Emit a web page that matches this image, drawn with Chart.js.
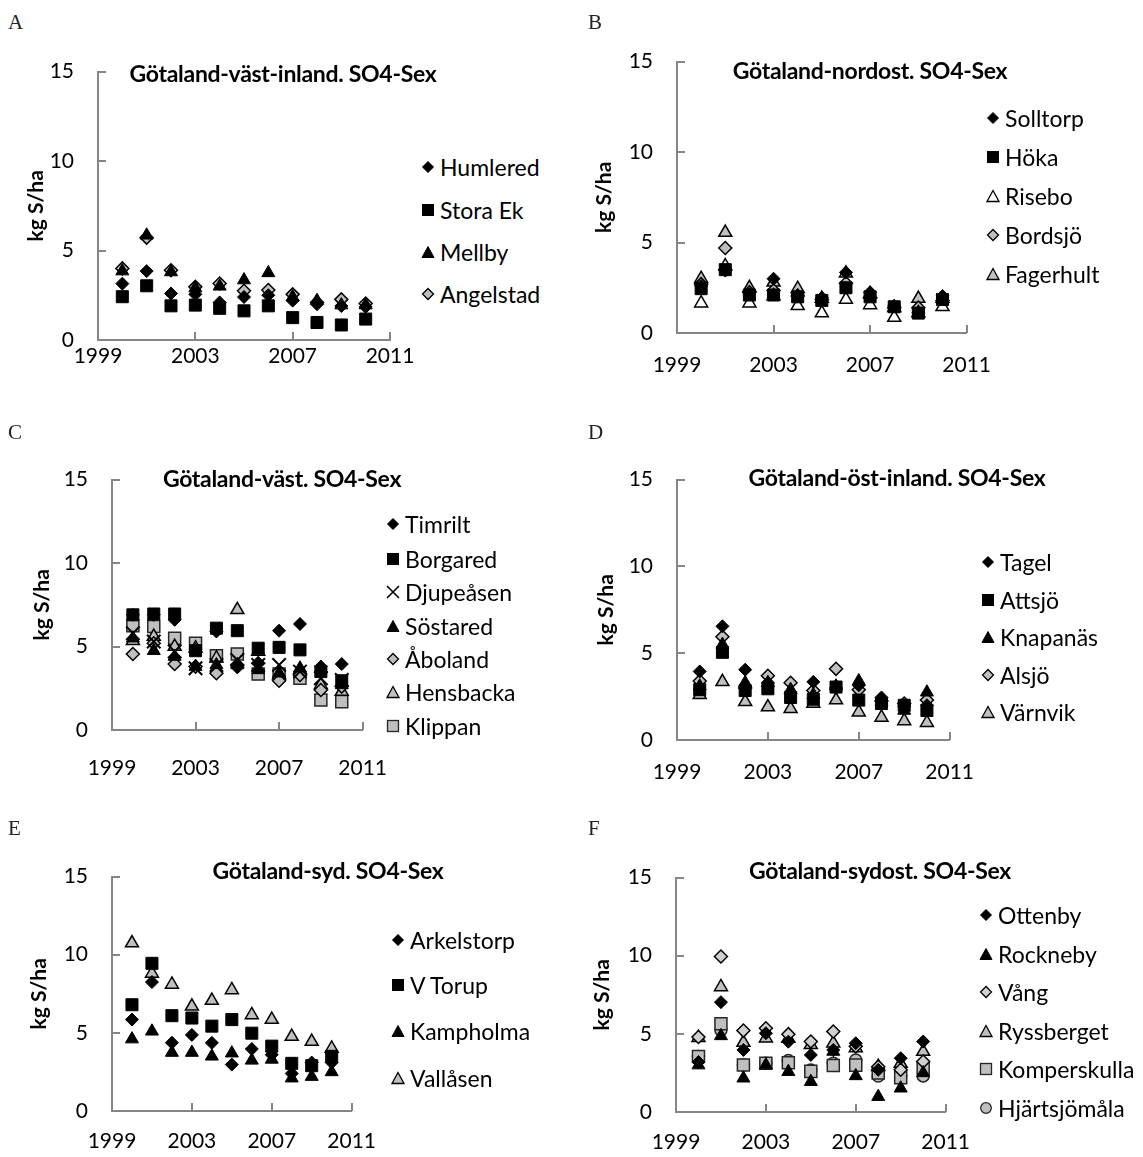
<!DOCTYPE html>
<html>
<head>
<meta charset="utf-8">
<script src="https://cdn.jsdelivr.net/npm/chart.js@4.4.1/dist/chart.umd.min.js"></script>
<style>
  body { margin: 0; background: #fff; width: 1143px; height: 1157px; position: relative; overflow: hidden; font-family: Lato, 'Open Sans', sans-serif; color: #000; }
  canvas { position: absolute; }
  .letter { position: absolute; font-family: 'Liberation Serif', 'DejaVu Serif', serif; font-size: 21px; color: #222; transform: translateY(-50%); }
  .title { position: absolute; font-weight: bold; font-size: 23px; letter-spacing: -0.3px; transform: translate(-50%, -50%); white-space: nowrap; z-index: 2; }
  .legend-item { position: absolute; font-size: 23px; transform: translateY(-50%); display: flex; align-items: center; gap: 5px; white-space: nowrap; z-index: 2; }
  .legend-item svg { display: block; }
</style>
</head>
<body>
<script>
const years = [2000, 2001, 2002, 2003, 2004, 2005, 2006, 2007, 2008, 2009, 2010]
const xTicks = [1999, 2003, 2007, 2011]
const yTicks = [0, 5, 10, 15]

// A: Götaland-väst-inland
const humlered  = [3.15, 3.85, 2.6, 2.55, 2.1, 2.4, 2.5, 2.2, 2.0, 1.9, 1.85]
const storaEk   = [2.42, 3.03, 1.91, 1.95, 1.77, 1.63, 1.91, 1.25, 0.98, 0.84, 1.17]
const mellby    = [3.85, 5.85, 3.8, 2.9, 3.0, 3.35, 3.75, 2.4, 2.2, 1.95, 1.95]
const angelstad = [4.0, 5.72, 3.9, 2.97, 3.16, 2.75, 2.79, 2.55, 2.1, 2.27, 2.04]

// B: Götaland-nordost
const solltorp  = [2.6, 3.45, 2.15, 3.0, 2.1, 1.95, 3.35, 2.25, 1.5, 1.15, 2.05]
const hoka      = [2.45, 3.5, 2.1, 2.1, 2.0, 1.8, 2.5, 2.0, 1.45, 1.1, 1.85]
const risebo    = [1.65, 3.7, 1.65, 2.05, 1.5, 1.1, 1.85, 1.55, 0.85, 1.1, 1.45]
const bordsjo   = [2.7, 4.7, 2.25, 2.35, 2.05, 1.85, 2.75, 1.95, 1.4, 1.4, 1.8]
const fagerhult = [3.0, 5.55, 2.5, 2.8, 2.45, 1.9, 3.3, 2.15, 1.4, 1.9, 1.9]

// C: Götaland-väst
const timrilt   = [6.9, 6.9, 6.6, 4.8, 5.9, 3.75, 4.0, 5.95, 6.35, 3.8, 3.95]
const borgared  = [6.9, 6.95, 6.95, 4.75, 6.1, 5.95, 4.9, 4.95, 4.8, 3.5, 2.95]
const djupeasen = [5.8, 5.3, 4.7, 3.7, 3.9, 4.2, 3.9, 3.9, 3.5, 3.1, 3.0]
const sostared  = [5.5, 4.75, 4.4, 3.8, 3.9, 3.9, 3.6, 3.4, 3.7, 3.7, 2.7]
const aboland   = [4.55, 5.2, 3.95, 3.8, 3.4, 3.9, 4.0, 2.95, 3.3, 2.4, 2.6]
const hensbacka = [5.35, 5.6, 5.0, 4.9, 4.3, 7.2, 4.7, 3.3, 3.6, 2.7, 2.3]
const klippan   = [6.25, 6.2, 5.5, 5.2, 4.45, 4.55, 3.35, 3.35, 3.1, 1.8, 1.7]

// D: Götaland-öst-inland
const tagel     = [3.95, 6.55, 4.05, 3.3, 2.7, 3.35, 3.0, 3.15, 2.45, 1.95, 2.0]
const attsjo    = [2.9, 5.05, 2.85, 2.95, 2.45, 2.35, 3.05, 2.3, 2.1, 2.0, 1.7]
const knapanas  = [3.1, 5.5, 3.3, 3.3, 2.9, 2.6, 3.1, 3.4, 2.2, 1.7, 2.75]
const alsjo     = [3.4, 5.95, 3.0, 3.7, 3.3, 2.85, 4.1, 2.9, 2.25, 2.1, 2.3]
const varnvik   = [2.6, 3.35, 2.2, 1.9, 1.8, 2.1, 2.3, 1.6, 1.3, 1.1, 1.0]

// E: Götaland-syd
const arkelstorp = [5.85, 8.25, 4.37, 4.87, 4.36, 2.97, 3.97, 3.6, 2.4, 3.1, 3.1]
const vTorup     = [6.8, 9.45, 6.1, 5.95, 5.43, 5.85, 4.98, 4.15, 3.05, 2.9, 3.5]
const kampholma  = [4.6, 5.1, 3.74, 3.74, 3.5, 3.7, 3.24, 3.3, 2.1, 2.2, 2.5]
const vallasen   = [10.75, 8.8, 8.1, 6.7, 7.07, 7.75, 6.15, 5.85, 4.76, 4.44, 4.0]

// F: Götaland-sydost
const ottenby      = [3.2, 7.03, 3.97, 5.04, 4.5, 3.65, 3.97, 4.4, 2.7, 3.44, 4.51]
const rockneby     = [3.0, 4.87, 2.16, 3.0, 2.58, 1.94, 3.87, 2.31, 0.98, 1.52, 2.5]
const vang         = [4.8, 9.95, 5.21, 5.36, 4.98, 4.51, 5.15, 4.2, 2.9, 2.7, 3.23]
const ryssberget   = [4.75, 8.0, 4.44, 4.72, 4.7, 4.3, 4.4, 4.1, 2.9, 3.1, 3.87]
const komperskulla = [3.55, 5.65, 3.01, 3.12, 3.15, 2.6, 2.97, 3.0, 2.5, 2.2, 2.8]
const hjartsjomala = [3.55, 5.25, 3.01, 3.12, 3.29, 2.69, 3.12, 3.33, 2.3, 2.31, 2.31]

const AXIS_COLOR = '#868686'
const GRAY = '#bfbfbf'

/* ---- marker styles ---- */
const M = {
  blackDiamond:  { pointStyle: 'rectRot', radius: 6.5, bg: '#000', border: '#000', bw: 1 },
  blackSquare:   { pointStyle: 'rect', radius: 8.5, bg: '#000', border: '#000', bw: 1 },
  blackTriangle: { pointStyle: 'triangle', radius: 7.5, bg: '#000', border: '#000', bw: 1 },
  grayDiamond:   { pointStyle: 'rectRot', radius: 6.5, bg: GRAY, border: '#000', bw: 1.5 },
  lightDiamond:  { pointStyle: 'rectRot', radius: 6.5, bg: '#d0d0d0', border: '#000', bw: 1.5 },
  grayTriangle:  { pointStyle: 'triangle', radius: 7.5, bg: GRAY, border: '#000', bw: 1.5 },
  whiteTriangle: { pointStyle: 'triangle', radius: 7.5, bg: '#fff', border: '#000', bw: 1.5 },
  graySquare:    { pointStyle: 'rect', radius: 8.5, bg: GRAY, border: '#262626', bw: 1.5 },
  grayCircle:    { pointStyle: 'circle', radius: 6, bg: GRAY, border: '#262626', bw: 1.5 },
  cross:         { pointStyle: 'crossRot', radius: 9.5, bg: 'rgba(0,0,0,0)', border: '#000', bw: 2 },
}

function markerSvg(st) {
  const fill = st.bg, stroke = st.border, sw = Math.min(st.bw, 1.3)
  let shape = ''
  switch (st.pointStyle) {
    case 'rectRot': shape = `<polygon points="7,1.5 12.5,7 7,12.5 1.5,7" fill="${fill}" stroke="${stroke}" stroke-width="${sw}"/>`; break
    case 'rect': shape = `<rect x="1.5" y="1.5" width="11" height="11" fill="${fill}" stroke="${stroke}" stroke-width="${sw}"/>`; break
    case 'triangle': shape = `<polygon points="7,1.5 13,12.5 1,12.5" fill="${fill}" stroke="${stroke}" stroke-width="${sw}"/>`; break
    case 'circle': shape = `<circle cx="7" cy="7" r="5.3" fill="${fill}" stroke="${stroke}" stroke-width="${sw}"/>`; break
    case 'crossRot': shape = `<path d="M1,1 L13,13 M13,1 L1,13" stroke="${stroke}" stroke-width="1.6"/>`; break
  }
  return `<svg width="14" height="14" viewBox="0 0 14 14">${shape}</svg>`
}

/* ---- inside tick marks ---- */
const innerTicks = {
  id: 'innerTicks',
  beforeDatasetsDraw(chart) {
    const { ctx, scales: { x, y }, chartArea: a } = chart
    ctx.save()
    ctx.strokeStyle = AXIS_COLOR
    ctx.lineWidth = 2
    ctx.beginPath()
    x.ticks.forEach(t => {
      const px = Math.round(x.getPixelForValue(t.value))
      ctx.moveTo(px, a.bottom); ctx.lineTo(px, a.bottom - 8)
    })
    y.ticks.forEach(t => {
      const py = Math.round(y.getPixelForValue(t.value))
      ctx.moveTo(a.left, py); ctx.lineTo(a.left + 8, py)
    })
    ctx.stroke()
    ctx.restore()
  }
}

/* ---- panels (plot area in page pixels) ---- */
const panels = [
  { letter: 'A', lx: 8, ly: 22, title: 'Götaland-väst-inland. SO4-Sex', tx: 283, ty: 73,
    axisX: 98, top: 71.5, bottom: 339.5, right: 390, yTitleDist: 61, xLabelGap: 4,
    legX: 421, legY: [167, 210, 252, 294],
    series: [['Humlered', humlered, M.blackDiamond], ['Stora Ek', storaEk, M.blackSquare],
             ['Mellby', mellby, M.blackTriangle], ['Angelstad', angelstad, M.grayDiamond]] },
  { letter: 'B', lx: 588, ly: 22, title: 'Götaland-nordost. SO4-Sex', tx: 870, ty: 70,
    axisX: 677, top: 61.5, bottom: 332.7, right: 966.5, yTitleDist: 72, xLabelGap: 20,
    legX: 986, legY: [118, 157, 196, 235, 274],
    series: [['Solltorp', solltorp, M.blackDiamond], ['Höka', hoka, M.blackSquare],
             ['Risebo', risebo, M.whiteTriangle], ['Bordsjö', bordsjo, M.grayDiamond],
             ['Fagerhult', fagerhult, M.grayTriangle]] },
  { letter: 'C', lx: 8, ly: 432, title: 'Götaland-väst. SO4-Sex', tx: 282, ty: 478,
    axisX: 112, top: 480, bottom: 730, right: 363, yTitleDist: 69, xLabelGap: 26,
    legX: 386, legY: [524, 559, 592, 626, 659, 692, 726],
    series: [['Timrilt', timrilt, M.blackDiamond], ['Borgared', borgared, M.blackSquare],
             ['Djupeåsen', djupeasen, M.cross], ['Söstared', sostared, M.blackTriangle],
             ['Åboland', aboland, M.grayDiamond], ['Hensbacka', hensbacka, M.grayTriangle],
             ['Klippan', klippan, M.graySquare]] },
  { letter: 'D', lx: 588, ly: 432, title: 'Götaland-öst-inland. SO4-Sex', tx: 897, ty: 477,
    axisX: 677, top: 479.5, bottom: 739.5, right: 949.5, yTitleDist: 70, xLabelGap: 20,
    legX: 981, legY: [562, 600, 637, 675, 712],
    series: [['Tagel', tagel, M.blackDiamond], ['Attsjö', attsjo, M.blackSquare],
             ['Knapanäs', knapanas, M.blackTriangle], ['Alsjö', alsjo, M.grayDiamond],
             ['Värnvik', varnvik, M.grayTriangle]] },
  { letter: 'E', lx: 8, ly: 828, title: 'Götaland-syd. SO4-Sex', tx: 328, ty: 870,
    axisX: 112, top: 876.3, bottom: 1110.3, right: 351.7, yTitleDist: 72, xLabelGap: 18,
    legX: 391, legY: [940, 985, 1031, 1078],
    series: [['Arkelstorp', arkelstorp, M.blackDiamond], ['V Torup', vTorup, M.blackSquare],
             ['Kampholma', kampholma, M.blackTriangle], ['Vallåsen', vallasen, M.grayTriangle]] },
  { letter: 'F', lx: 588, ly: 828, title: 'Götaland-sydost. SO4-Sex', tx: 880, ty: 870,
    axisX: 676, top: 878, bottom: 1112, right: 945.7, yTitleDist: 73, xLabelGap: 18,
    legX: 979, legY: [915, 954, 992, 1031, 1069, 1108],
    series: [['Ottenby', ottenby, M.blackDiamond], ['Rockneby', rockneby, M.blackTriangle],
             ['Vång', vang, M.lightDiamond], ['Ryssberget', ryssberget, M.grayTriangle],
             ['Komperskulla', komperskulla, M.graySquare], ['Hjärtsjömåla', hjartsjomala, M.grayCircle]] },
]

const L = 90, T = 20, R = 30, B = 55
const tickFont = { family: 'Lato', size: 21 }

function addDiv(cls, html, x, y) {
  const d = document.createElement('div')
  d.className = cls
  d.innerHTML = html
  d.style.left = x + 'px'
  d.style.top = y + 'px'
  document.body.appendChild(d)
}

function makeConfig(p) {
  return {
    type: 'scatter',
    data: {
      datasets: p.series.map(([label, vals, st]) => ({
        label,
        data: years.map((x, i) => ({ x, y: vals[i] })),
        pointStyle: st.pointStyle,
        pointRadius: st.radius,
        pointBackgroundColor: st.bg,
        pointBorderColor: st.border,
        pointBorderWidth: st.bw,
        clip: false,
      }))
    },
    options: {
      responsive: false,
      animation: false,
      devicePixelRatio: 1,
      layout: { padding: { top: T, right: R, left: 0, bottom: 0 } },
      plugins: { legend: { display: false }, tooltip: { enabled: false } },
      scales: {
        x: {
          type: 'linear', min: 1999, max: 2011,
          afterBuildTicks: s => { s.ticks = xTicks.map(v => ({ value: v })) },
          afterFit: s => { s.height = B },
          grid: { display: false, drawTicks: false },
          border: { color: AXIS_COLOR, width: 2 },
          ticks: { color: '#000', font: tickFont, padding: p.xLabelGap, maxRotation: 0, autoSkip: false, callback: v => String(v) }
        },
        y: {
          min: 0, max: 15,
          afterBuildTicks: s => { s.ticks = yTicks.map(v => ({ value: v })) },
          afterFit: s => { s.width = L },
          grid: { display: false, drawTicks: false },
          border: { color: AXIS_COLOR, width: 2 },
          ticks: { color: '#000', font: tickFont, padding: 24 },
          title: { display: true, text: 'kg S/ha', color: '#000', font: { family: 'Lato', size: 21, weight: 'bold' },
                   padding: { top: L - p.yTitleDist - 13, bottom: 0 } }
        }
      }
    },
    plugins: [innerTicks]
  }
}

panels.forEach(p => {
  const canvas = document.createElement('canvas')
  document.body.appendChild(canvas)
  const plotW = p.right - p.axisX
  const plotH = p.bottom - p.top
  let w = Math.round(plotW + L + R)
  let h = Math.round(plotH + T + B + 15)
  let chart = null

  // build, measure the plot area, resize the canvas until it matches
  for (let pass = 0; pass < 4; pass++) {
    if (chart) chart.destroy()
    canvas.width = w
    canvas.height = h
    canvas.style.width = w + 'px'
    canvas.style.height = h + 'px'
    chart = new Chart(canvas, makeConfig(p))
    const a = chart.chartArea
    const dw = Math.round(plotW - (a.right - a.left))
    const dh = Math.round(plotH - (a.bottom - a.top))
    if (dw === 0 && dh === 0) break
    w += dw
    h += dh
  }
  const a = chart.chartArea
  canvas.style.left = (p.axisX - a.left) + 'px'
  canvas.style.top = (p.top - a.top) + 'px'

  addDiv('letter', p.letter, p.lx, p.ly)
  addDiv('title', p.title, p.tx, p.ty)
  p.series.forEach(([label, , st], i) => {
    addDiv('legend-item', markerSvg(st) + `<span>${label}</span>`, p.legX, p.legY[i])
  })
})
</script>
</body>
</html>
